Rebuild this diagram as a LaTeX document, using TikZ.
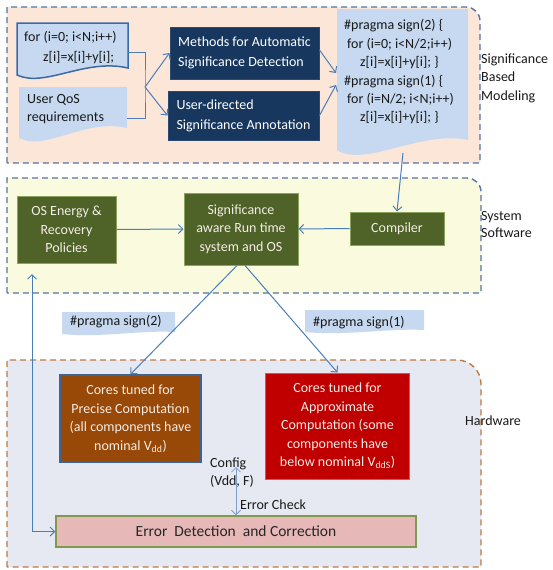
\documentclass[tikz,border=0pt]{standalone}
\usepackage{fontspec}
\setmainfont{Carlito}
\usetikzlibrary{arrows.meta}
\definecolor{docblue}{HTML}{C6D9F1}
\definecolor{docborder}{HTML}{3A6AA8}
\definecolor{navy}{HTML}{17375E}
\definecolor{navyb}{HTML}{2B4B73}
\definecolor{olivef}{HTML}{4F6228}
\definecolor{oliveb}{HTML}{8CA35E}
\definecolor{lineblue}{HTML}{4A7EBB}
\definecolor{lightline}{HTML}{7BA0CD}
\definecolor{dashblue}{HTML}{5475A0}
\definecolor{dashbrown}{HTML}{BC7A45}
\definecolor{peach}{HTML}{FCE6D8}
\definecolor{ylw}{HTML}{FAFADF}
\definecolor{hwbg}{HTML}{E6E9F1}
\definecolor{brn}{HTML}{984807}
\definecolor{brnb}{HTML}{3E6496}
\definecolor{redf}{HTML}{C00000}
\definecolor{redb}{HTML}{E05050}
\definecolor{pinkf}{HTML}{E6B9B8}
\definecolor{errb}{HTML}{7F9A4C}
\definecolor{lighttxt}{HTML}{F4EDE6}
\begin{document}
\begin{tikzpicture}[x=1pt,y=-1pt,
  font=\fontsize{14}{18.5}\selectfont,
  region/.style={dash pattern=on 6pt off 4pt, line width=1.4pt},
  box/.style={draw, line width=1pt, inner sep=0pt, align=center},
  navybox/.style={box, fill=navy, draw=navyb, text=white, align=left, font=\fontsize{14}{20}\selectfont},
  greenbox/.style={box, fill=olivef, draw=oliveb, text=lighttxt},
  txt/.style={inner sep=0pt, align=left, text=black!90},
  link/.style={draw=lineblue, line width=1pt},
  arr/.style={link, -{Straight Barb[length=4.5pt,width=9pt]}},
  darr/.style={link, {Straight Barb[length=4.5pt,width=9pt]}-{Straight Barb[length=4.5pt,width=9pt]}}
]
\useasboundingbox (0,0) rectangle (552,570);
\fill[white] (0,0) rectangle (552,570);

% regions
\filldraw[fill=peach, draw=dashblue, region] (7,163) -- (7,7) -- (466,7) .. controls (473.7,7) and (480,13.3) .. (480,21) -- (480,163) -- cycle;
\filldraw[fill=ylw, draw=dashblue, region] (7,293) -- (7,178) -- (467,178) .. controls (474.7,178) and (481,184.3) .. (481,192) -- (481,293) -- cycle;
\filldraw[fill=hwbg, draw=dashbrown, region] (7,567) -- (7,360) -- (457,360) .. controls (470.2,360) and (481,370.8) .. (481,384) -- (481,567) -- cycle;

% region labels
\node[txt, anchor=west] (lsbm) at (481,78) {Significance\\Based\\Modeling};
\node[txt, anchor=west, font=\fontsize{14}{17.5}\selectfont] (lss) at (481,224.5) {System\\Software};
\node[txt, anchor=west] (lhw) at (465,421) {Hardware};

% document shapes
\filldraw[fill=docblue, draw=docborder, line width=1.5pt] (17,23) -- (128,23) -- (128,68) .. controls (85,58) and (45,88) .. (17,75) -- cycle;
\fill[docblue] (19,87) -- (127,87) -- (127,128) .. controls (85,118) and (45,152) .. (19,138) -- cycle;
\fill[docblue] (337,9) -- (468,9) -- (468,140) .. controls (420,130) and (365,168) .. (337,150) -- cycle;
\fill[docblue] (62,312) -- (175,312) -- (175,332) .. controls (140,330) and (100,338) .. (62,334) -- cycle;
\fill[docblue] (305,310) -- (424,310) -- (424,330) .. controls (390,328) and (345,336) .. (305,332) -- cycle;

% anchor nodes for documents
\node[inner sep=0pt, minimum width=111pt, minimum height=58pt] (code) at (72.5,52) {};
\node[inner sep=0pt, minimum width=108pt, minimum height=62pt] (qos) at (73,118) {};
\node[inner sep=0pt, minimum width=131pt, minimum height=145pt] (prag) at (402.5,81.5) {};

% document texts
\node[txt, anchor=west, font=\fontsize{14}{20}\selectfont] (codetxt) at (24,48) {for (i=0; i<N;i++)\\\hspace*{19pt}z[i]=x[i]+y[i];};
\node[txt, anchor=west] (qostxt) at (27,109) {User QoS\\requirements};
\node[txt, anchor=west, font=\fontsize{14}{18.4}\selectfont] (pragtxt) at (344,72) {\#pragma sign(2) \{\\\hspace*{3pt}for (i=0; i<N/2;i++)\\\hspace*{16pt}z[i]=x[i]+y[i]; \}\\\#pragma sign(1) \{\\\hspace*{3pt}for (i=N/2; i<N;i++)\\\hspace*{16pt}z[i]=x[i]+y[i]; \}};
\node[txt, anchor=west] (p2) at (70,322) {\#pragma sign(2)};
\node[txt, anchor=west] (p1) at (313,323) {\#pragma sign(1)};

% boxes
\node[navybox, minimum width=149pt, minimum height=52pt] (meth) at (244.5,53) {Methods for Automatic\\Significance Detection};
\node[navybox, minimum width=151pt, minimum height=49pt] (udir) at (243.5,115.5) {User-directed\\Significance Annotation};
\node[greenbox, minimum width=99pt, minimum height=67pt] (osen) at (66.5,229.5) {OS Energy \&\\Recovery\\Policies};
\node[greenbox, minimum width=114pt, minimum height=72pt] (sig) at (241,229) {Significance\\aware Run time\\system and OS};
\node[greenbox, minimum width=94pt, minimum height=33pt] (comp) at (397,228.5) {Compiler};
\node[box, fill=brn, draw=brnb, line width=1.5pt, text=lighttxt, minimum width=141pt, minimum height=87pt] (prec) at (130.5,418.5) {Cores tuned for\\Precise Computation\\(all components have\\nominal V\textsubscript{dd})};
\node[box, fill=redf, draw=redb, text=lighttxt, minimum width=144pt, minimum height=106pt] (appr) at (337.5,426) {Cores tuned for\\Approximate\\Computation (some\\components have\\below nominal V\textsubscript{ddS})};
\node[box, fill=pinkf, draw=errb, line width=1.5pt, text=black!85, minimum width=360pt, minimum height=31pt, font=\fontsize{15.5}{18}\selectfont] (err) at (236,531.5) {Error~ Detection~ and Correction};

% small labels
\node[txt, anchor=west] (cfg) at (210,472.5) {Config\\(Vdd, F)};
\node[txt, anchor=west] (echk) at (240,505) {Error Check};

% connectors
\coordinate (j) at (145,87);
\draw[link] (code.east) -| (j) |- (qos.east);
\draw[arr] (j) -- (meth.west);
\draw[arr] (j) -- (udir.west);
\coordinate (pin1) at (336,73);
\coordinate (pin2) at (336,85);
\draw[arr] ([yshift=3pt]meth.east) -- (pin1);
\draw[arr] (udir.east) -- (pin2);
\coordinate (pout) at (403,153);
\draw[arr] (pout) -- (comp.north);
\draw[arr] (comp.west) -- (sig.east);
\draw[arr] (osen.east) -- (sig.west);
\draw[arr] ([xshift=-4pt]sig.south) -- (prec.north);
\draw[arr] ([xshift=4pt]sig.south) -- (appr.north);
\coordinate (fb) at (32,274);
\draw[darr] (fb) |- (err.west);
\coordinate (cfgp) at (236,467);
\draw[darr, draw=lightline, line width=0.8pt] (cfgp) -- (err.north);
\end{tikzpicture}
\end{document}
